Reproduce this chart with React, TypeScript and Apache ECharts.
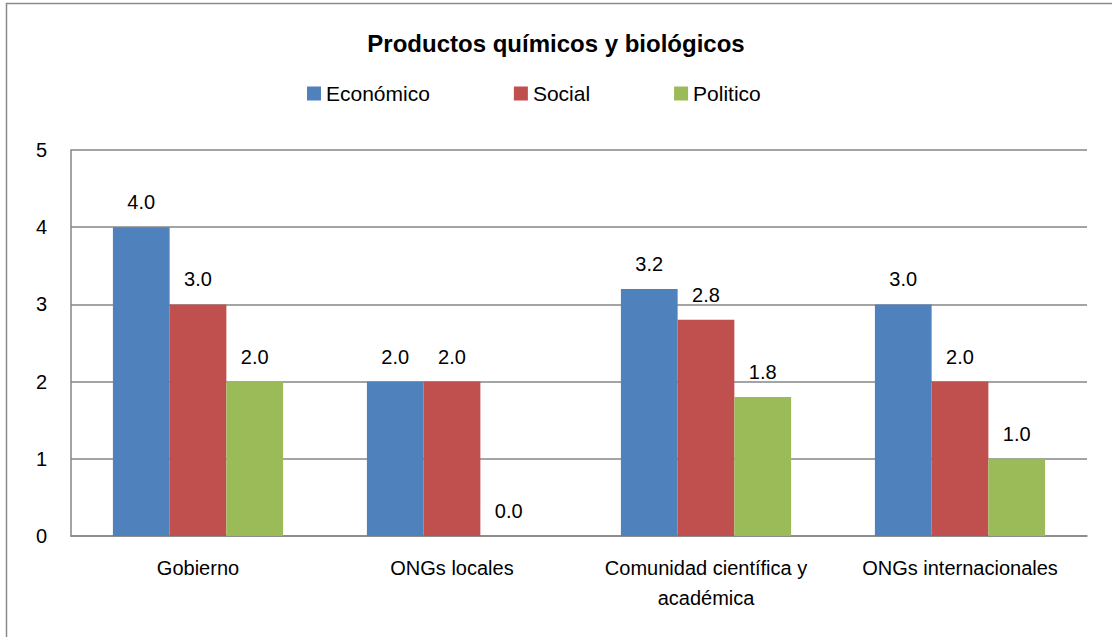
import React, { useEffect, useRef } from "react";
import * as echarts from "echarts";

const title = "Productos químicos y biológicos";
const categories = ["Gobierno", "ONGs locales", "Comunidad científica y\nacadémica", "ONGs internacionales"];
const seriesNames = ["Económico", "Social", "Politico"];
const economico = [4.0, 2.0, 3.2, 3.0];
const social = [3.0, 2.0, 2.8, 2.0];
const politico = [2.0, 0.0, 1.8, 1.0];
const colors = ["#4F81BD", "#C0504D", "#9BBB59"];
const yTicks = [0, 1, 2, 3, 4, 5];

const FONT = "'Liberation Sans', Arial, sans-serif";

export default function App() {
  const ref = useRef<HTMLDivElement>(null);
  useEffect(() => {
    document.body.style.margin = "0";
    const chart = echarts.init(ref.current!, null, { renderer: "svg" });
    const values = [economico, social, politico];
    chart.setOption({
      animation: false,
      backgroundColor: "#ffffff",
      textStyle: { fontFamily: FONT },
      title: {
        text: title,
        left: "center",
        top: 26,
        textStyle: { fontFamily: FONT, fontSize: 24, fontWeight: "bold", color: "#000" },
      },
      legend: {
        top: 78,
        left: 302,
        itemWidth: 14,
        itemHeight: 14,
        itemGap: 84,
        icon: "rect",
        data: seriesNames,
        textStyle: { fontFamily: FONT, fontSize: 21, color: "#000" },
      },
      graphic: [
        {
          type: "rect",
          shape: { x: 6.5, y: 3.5, width: 1200, height: 700 },
          style: { fill: "none", stroke: "#8a8a8a", lineWidth: 1.5 },
          silent: true,
        },
      ],
      grid: { left: 71, right: 25, top: 150, bottom: 101, containLabel: false },
      xAxis: {
        type: "category",
        data: categories,
        axisLine: { show: true, lineStyle: { color: "#868686", width: 1.5 } },
        axisTick: { show: false },
        axisLabel: { fontFamily: FONT, fontSize: 20, color: "#000", margin: 17, lineHeight: 30, interval: 0 },
      },
      yAxis: {
        type: "value",
        min: yTicks[0],
        max: yTicks[yTicks.length - 1],
        interval: 1,
        axisLine: { show: true, lineStyle: { color: "#868686", width: 1.5 } },
        axisTick: { show: false },
        splitLine: { show: true, lineStyle: { color: "#868686", width: 1.5 } },
        axisLabel: { fontFamily: FONT, fontSize: 20, color: "#000", margin: 24 },
      },
      series: seriesNames.map((name, i) => ({
        name,
        type: "bar",
        data: values[i],
        barGap: "0%",
        barCategoryGap: "33%",
        itemStyle: { color: colors[i] },
        label: {
          show: true,
          position: "top",
          distance: 15,
          formatter: (p: any) => Number(p.value).toFixed(1),
          fontFamily: FONT,
          fontSize: 20,
          color: "#000",
        },
      })),
    });
    return () => chart.dispose();
  }, []);
  return <div ref={ref} style={{ width: 1112, height: 637 }} />;
}
